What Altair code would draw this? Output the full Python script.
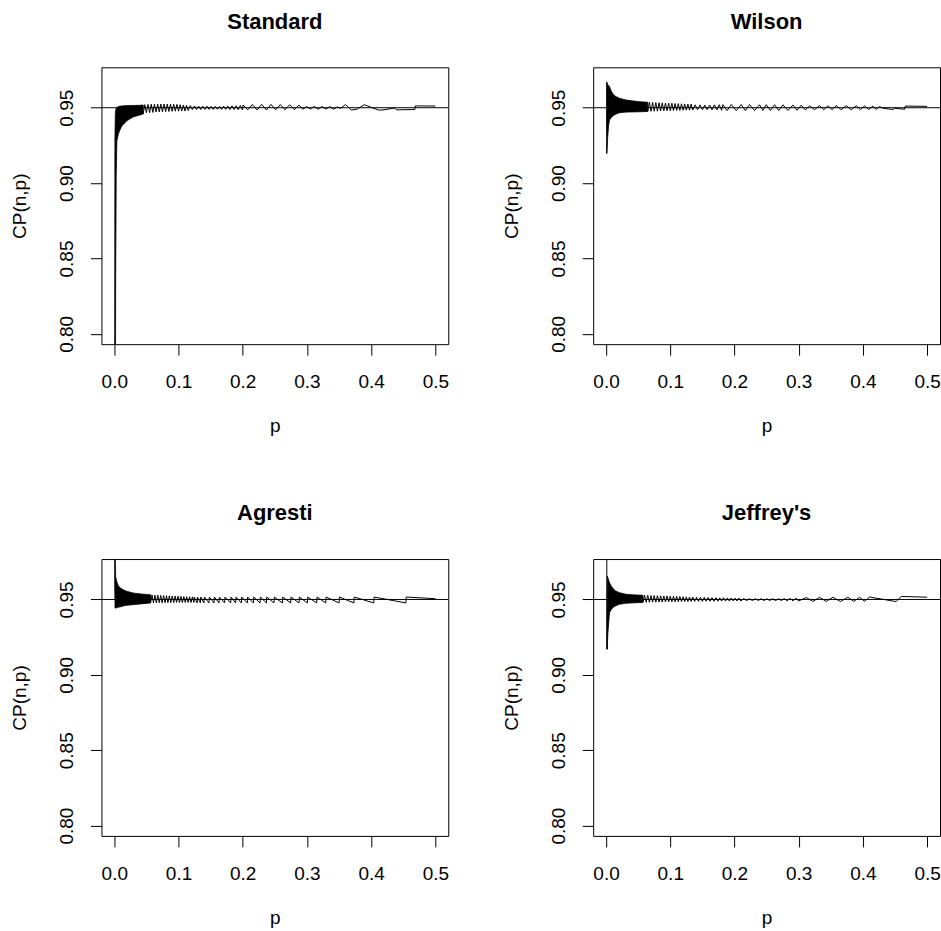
import altair as alt
import pandas as pd

FONT = "Liberation Sans"

# ---------------- data ----------------
x_ticks = [0.0, 0.1, 0.2, 0.3, 0.4, 0.5]
y_ticks = [0.80, 0.85, 0.90, 0.95]
titles = ["Standard", "Wilson", "Agresti", "Jeffrey's"]
nominal = [0.95]

# Standard (Wald)
std_band_p  = [0.0003, 0.0010, 0.0016, 0.0022, 0.0030, 0.0040, 0.0060, 0.0080, 0.0120, 0.0200, 0.0300, 0.0400, 0.0450]
std_band_hi = [0.7000, 0.9300, 0.9460, 0.9485, 0.9495, 0.9502, 0.9507, 0.9510, 0.9512, 0.9514, 0.9515, 0.9516, 0.9518]
std_band_lo = [0.7000, 0.7000, 0.7400, 0.8400, 0.9050, 0.9280, 0.9320, 0.9345, 0.9380, 0.9415, 0.9440, 0.9452, 0.9458]
std_spike_p = []
std_spike_cp = []
std_p = [0.0450, 0.0475, 0.0500, 0.0525, 0.0550, 0.0575, 0.0600, 0.0625, 0.0650, 0.0675, 0.0700, 0.0725, 0.0750, 0.0775,
         0.0800, 0.0825, 0.0850, 0.0875, 0.0900, 0.0925, 0.0950, 0.0975, 0.1000, 0.1025, 0.1050, 0.1075, 0.1100, 0.1125, 0.1150,
         0.1183, 0.1215, 0.1248, 0.1280, 0.1313, 0.1345, 0.1378, 0.1410, 0.1443, 0.1475, 0.1508, 0.1540, 0.1573, 0.1605,
         0.1638, 0.1670, 0.1703, 0.1735, 0.1768, 0.1800, 0.1833, 0.1865, 0.1898, 0.1930, 0.1963, 0.1995,
         0.2005, 0.2078, 0.2150, 0.2223, 0.2295, 0.2368, 0.2440, 0.2513, 0.2585, 0.2658, 0.2730, 0.2803, 0.2875, 0.2935,
         0.2995, 0.3055, 0.3115, 0.3175, 0.3235, 0.3295, 0.3355, 0.3415, 0.3475, 0.3520,
         0.3600, 0.3690, 0.3780, 0.3890, 0.4120, 0.4200, 0.4360, 0.4400, 0.4680, 0.4685, 0.5000]
std_cp = [0.9460, 0.9520, 0.9466, 0.9522, 0.9467, 0.9523, 0.9469, 0.9523, 0.9471, 0.9524, 0.9472, 0.9524, 0.9473, 0.9524,
          0.9474, 0.9524, 0.9475, 0.9524, 0.9476, 0.9523, 0.9477, 0.9522, 0.9477, 0.9520, 0.9478, 0.9518, 0.9478, 0.9516, 0.9482,
          0.9514, 0.9487, 0.9512, 0.9488, 0.9511, 0.9488, 0.9510, 0.9489, 0.9510, 0.9489, 0.9509, 0.9489, 0.9509, 0.9490,
          0.9509, 0.9489, 0.9510, 0.9489, 0.9511, 0.9488, 0.9512, 0.9488, 0.9513, 0.9487, 0.9515, 0.9486,
          0.9518, 0.9486, 0.9521, 0.9485, 0.9522, 0.9485, 0.9522, 0.9486, 0.9521, 0.9486, 0.9520, 0.9487, 0.9518, 0.9490,
          0.9508, 0.9491, 0.9509, 0.9490, 0.9508, 0.9491, 0.9507, 0.9490, 0.9506, 0.9495,
          0.9521, 0.9485, 0.9490, 0.9520, 0.9484, 0.9486, 0.9498, 0.9486, 0.9488, 0.9512, 0.9511]

# Wilson
wil_band_p  = [0.0008, 0.0016, 0.0025, 0.0040, 0.0054, 0.0080, 0.0106, 0.0150, 0.0210, 0.0314, 0.0400, 0.0520, 0.0650]
wil_band_hi = [0.9670, 0.9668, 0.9655, 0.9648, 0.9640, 0.9612, 0.9591, 0.9575, 0.9562, 0.9551, 0.9546, 0.9540, 0.9536]
wil_band_lo = [0.9195, 0.9200, 0.9300, 0.9380, 0.9418, 0.9435, 0.9445, 0.9457, 0.9467, 0.9471, 0.9472, 0.9473, 0.9475]
wil_spike_p = []
wil_spike_cp = []
wil_p = [0.0650, 0.0675, 0.0700, 0.0725, 0.0750, 0.0775, 0.0800, 0.0825, 0.0850, 0.0875, 0.0900, 0.0925, 0.0950, 0.0975,
         0.1000, 0.1025, 0.1050, 0.1075, 0.1100, 0.1125, 0.1150, 0.1175, 0.1200, 0.1225, 0.1250, 0.1275, 0.1300, 0.1325, 0.1350,
         0.1388, 0.1425, 0.1463, 0.1500, 0.1538, 0.1575, 0.1613, 0.1650, 0.1688, 0.1725, 0.1763, 0.1800,
         0.1820, 0.1885, 0.1950, 0.2028, 0.2105, 0.2170, 0.2235, 0.2313, 0.2390, 0.2442, 0.2494, 0.2559, 0.2624, 0.2689,
         0.2754, 0.2832, 0.2910, 0.2975, 0.3039, 0.3104,
         0.3169, 0.3247, 0.3325, 0.3390, 0.3455, 0.3520, 0.3584, 0.3662, 0.3740, 0.3818, 0.3896, 0.3961, 0.4026, 0.4090,
         0.4155, 0.4207, 0.4259, 0.4310,
         0.4470, 0.4490, 0.4650, 0.4660, 0.5000]
wil_cp = [0.9475, 0.9536, 0.9476, 0.9535, 0.9477, 0.9534, 0.9477, 0.9533, 0.9478, 0.9532, 0.9479, 0.9531, 0.9480, 0.9530,
          0.9480, 0.9529, 0.9481, 0.9528, 0.9482, 0.9527, 0.9482, 0.9526, 0.9483, 0.9525, 0.9484, 0.9524, 0.9484, 0.9524, 0.9485,
          0.9519, 0.9487, 0.9519, 0.9487, 0.9518, 0.9487, 0.9518, 0.9486, 0.9519, 0.9485, 0.9520, 0.9483,
          0.9520, 0.9481, 0.9521, 0.9481, 0.9521, 0.9481, 0.9521, 0.9481, 0.9520, 0.9482, 0.9520, 0.9481, 0.9520, 0.9482,
          0.9519, 0.9482, 0.9518, 0.9483, 0.9517, 0.9485,
          0.9513, 0.9487, 0.9514, 0.9487, 0.9513, 0.9487, 0.9514, 0.9487, 0.9514, 0.9486, 0.9513, 0.9487, 0.9512, 0.9488,
          0.9510, 0.9489, 0.9508, 0.9497,
          0.9488, 0.9496, 0.9490, 0.9511, 0.9509]

# Agresti-Coull
agr_band_p  = [0.0006, 0.0012, 0.0021, 0.0035, 0.0046, 0.0065, 0.0098, 0.0150, 0.0202, 0.0306, 0.0450, 0.0565]
agr_band_hi = [0.9900, 0.9850, 0.9653, 0.9625, 0.9608, 0.9590, 0.9575, 0.9562, 0.9553, 0.9542, 0.9535, 0.9531]
agr_band_lo = [0.9600, 0.9443, 0.9443, 0.9445, 0.9447, 0.9449, 0.9452, 0.9458, 0.9462, 0.9466, 0.9472, 0.9477]
agr_spike_p = []
agr_spike_cp = []
agr_p = [0.05650, 0.05875, 0.06100, 0.06325, 0.06550, 0.06775, 0.07000, 0.07225, 0.07450, 0.07675, 0.07900, 0.08125,
         0.08350, 0.08575, 0.08800, 0.09025, 0.09250, 0.09475, 0.09700, 0.09925, 0.10150, 0.10375, 0.10600, 0.10825,
         0.11050, 0.11275, 0.11500, 0.11725, 0.11950, 0.12175, 0.12400,
         0.1246, 0.1290, 0.1296, 0.1340, 0.1346, 0.1396, 0.1402, 0.1474, 0.1480, 0.1552, 0.1558, 0.1630, 0.1636,
         0.1718, 0.1724, 0.1812, 0.1818, 0.1889, 0.1895, 0.1978, 0.1984, 0.2071, 0.2077, 0.2165, 0.2171, 0.2269,
         0.2275, 0.2368, 0.2374, 0.2486, 0.2492, 0.2617, 0.2623, 0.2746, 0.2752, 0.2876, 0.2882, 0.3006, 0.3012,
         0.3151, 0.3157, 0.3292, 0.3298, 0.3500, 0.3506, 0.3730, 0.3736, 0.4040, 0.4046, 0.4540, 0.4546, 0.5000]
agr_cp = [0.9477, 0.9530, 0.9477, 0.9529, 0.9478, 0.9528, 0.9478, 0.9527, 0.9478, 0.9526, 0.9479, 0.9525,
          0.9479, 0.9524, 0.9479, 0.9523, 0.9479, 0.9522, 0.9480, 0.9521, 0.9480, 0.9520, 0.9480, 0.9519,
          0.9480, 0.9518, 0.9480, 0.9518, 0.9480, 0.9517, 0.9480,
          0.9516, 0.9477, 0.9516, 0.9477, 0.9516, 0.9477, 0.9516, 0.9477, 0.9516, 0.9477, 0.9516, 0.9477, 0.9516,
          0.9477, 0.9516, 0.9477, 0.9516, 0.9477, 0.9516, 0.9477, 0.9516, 0.9477, 0.9516, 0.9477, 0.9516, 0.9477,
          0.9516, 0.9477, 0.9516, 0.9477, 0.9516, 0.9477, 0.9516, 0.9477, 0.9516, 0.9477, 0.9516, 0.9477, 0.9516,
          0.9477, 0.9516, 0.9477, 0.9516, 0.9477, 0.9516, 0.9477, 0.9516, 0.9477, 0.9516, 0.9477, 0.9516, 0.9505]

# Jeffreys
jef_band_p  = [0.0014, 0.0020, 0.0028, 0.0054, 0.0080, 0.0106, 0.0150, 0.0210, 0.0314, 0.0450, 0.0575]
jef_band_hi = [0.9250, 0.9655, 0.9645, 0.9611, 0.9590, 0.9574, 0.9556, 0.9545, 0.9534, 0.9530, 0.9528]
jef_band_lo = [0.9170, 0.9170, 0.9270, 0.9412, 0.9432, 0.9446, 0.9458, 0.9468, 0.9475, 0.9478, 0.9480]
jef_spike_p = [0.0012, 0.0012]
jef_spike_cp = [0.9900, 0.9170]
jef_p = [0.0575, 0.0600, 0.0625, 0.0650, 0.0675, 0.0700, 0.0725, 0.0750, 0.0775, 0.0800, 0.0825, 0.0850, 0.0875, 0.0900,
         0.0925, 0.0950, 0.0975, 0.1000, 0.1025, 0.1050, 0.1075, 0.1100, 0.1125, 0.1150, 0.1175, 0.1200, 0.1225, 0.1250,
         0.1275, 0.1300, 0.1325, 0.1350,
         0.1380, 0.1410, 0.1440, 0.1470, 0.1500, 0.1530, 0.1560, 0.1590, 0.1620, 0.1650, 0.1680, 0.1710, 0.1740, 0.1770,
         0.1800, 0.1830, 0.1860, 0.1890, 0.1920, 0.1950, 0.1980, 0.2010, 0.2040, 0.2070, 0.2100,
         0.2145, 0.2190, 0.2235, 0.2280, 0.2325, 0.2370, 0.2415, 0.2460, 0.2505, 0.2550, 0.2595, 0.2640, 0.2685, 0.2730,
         0.2775, 0.2820, 0.2865, 0.2910, 0.2955, 0.3000,
         0.3117, 0.3221, 0.3325, 0.3429, 0.3533, 0.3650, 0.3766, 0.3858, 0.3949, 0.4026, 0.4103, 0.4519, 0.4597, 0.5000]
jef_cp = [0.9480, 0.9528, 0.9481, 0.9527, 0.9481, 0.9526, 0.9482, 0.9526, 0.9482, 0.9525, 0.9483, 0.9524, 0.9483, 0.9523,
          0.9484, 0.9523, 0.9484, 0.9522, 0.9485, 0.9521, 0.9485, 0.9520, 0.9485, 0.9519, 0.9486, 0.9518, 0.9486, 0.9517,
          0.9486, 0.9516, 0.9487, 0.9516,
          0.9487, 0.9515, 0.9487, 0.9514, 0.9487, 0.9514, 0.9488, 0.9513, 0.9488, 0.9512, 0.9488, 0.9512, 0.9488, 0.9511,
          0.9489, 0.9511, 0.9489, 0.9510, 0.9489, 0.9510, 0.9490, 0.9509, 0.9490, 0.9509, 0.9490,
          0.9506, 0.9492, 0.9505, 0.9492, 0.9505, 0.9493, 0.9505, 0.9493, 0.9504, 0.9493, 0.9505, 0.9492, 0.9505, 0.9492,
          0.9506, 0.9491, 0.9507, 0.9491, 0.9508, 0.9490,
          0.9513, 0.9487, 0.9514, 0.9487, 0.9515, 0.9486, 0.9515, 0.9487, 0.9514, 0.9488, 0.9516, 0.9486, 0.9520, 0.9515]

# ---------------- chart ----------------
X_DOMAIN = [-0.02, 0.52]
Y_DOMAIN = [0.7932, 0.9768]
W, H = 347, 277


def panel(title, band_p, band_lo, band_hi, line_p, line_cp, spike_p, spike_cp):
    xs = alt.Scale(domain=X_DOMAIN, nice=False, zero=False)
    ys = alt.Scale(domain=Y_DOMAIN, nice=False, zero=False)
    x_axis = alt.Axis(values=x_ticks, format=".1f", title="p", grid=False, domain=False,
                      tickColor="black", tickSize=11, tickWidth=1,
                      labelFont=FONT, labelFontSize=19, labelColor="black", labelPadding=32.3,
                      labelBaseline="alphabetic", labelFlush=False, labelOverlap=False,
                      titleFont=FONT, titleFontSize=19, titleFontWeight="normal", titleColor="black",
                      titleBaseline="alphabetic", titleY=87.6)
    y_axis = alt.Axis(values=y_ticks, format=".2f", title="CP(n,p)", grid=False, domain=False,
                      tickColor="black", tickSize=11, tickWidth=1,
                      labelFont=FONT, labelFontSize=19, labelColor="black", labelPadding=17.8,
                      labelAngle=-90, labelAlign="center", labelBaseline="alphabetic",
                      labelFlush=False, labelOverlap=False,
                      titleFont=FONT, titleFontSize=19, titleFontWeight="normal", titleColor="black",
                      titleAngle=-90, titleBaseline="alphabetic", titleX=-76)

    band_df = pd.DataFrame({"p": band_p, "lo": band_lo, "hi": band_hi})
    rows = []
    for i, (p, c) in enumerate(zip(spike_p, spike_cp)):
        rows.append({"p": p, "cp": c, "seg": "spike", "i": i})
    for i, (p, c) in enumerate(zip(line_p, line_cp)):
        rows.append({"p": p, "cp": c, "seg": "teeth", "i": i})
    line_df = pd.DataFrame(rows)

    band = alt.Chart(band_df).mark_area(color="black", stroke="black", strokeWidth=0.8,
                                        clip=True).encode(
        x=alt.X("p:Q", scale=xs, axis=x_axis),
        y=alt.Y("lo:Q", scale=ys, axis=y_axis),
        y2="hi:Q",
    )
    line = alt.Chart(line_df).mark_line(color="black", strokeWidth=1, clip=True).encode(
        x=alt.X("p:Q", scale=xs, axis=x_axis),
        y=alt.Y("cp:Q", scale=ys, axis=y_axis),
        detail="seg:N",
        order=alt.Order("i:Q"),
    )
    ref = alt.Chart(pd.DataFrame({"cp": nominal})).mark_rule(color="black", strokeWidth=1).encode(
        y=alt.Y("cp:Q", scale=ys, axis=y_axis)
    )
    return alt.layer(band, line, ref).properties(
        width=W, height=H,
        title=alt.TitleParams(title, font=FONT, fontSize=22, fontWeight="bold", color="black",
                              anchor="middle", frame="group", baseline="alphabetic", offset=16.7),
    )


p1 = panel(titles[0], std_band_p, std_band_lo, std_band_hi, std_p, std_cp, std_spike_p, std_spike_cp)
p2 = panel(titles[1], wil_band_p, wil_band_lo, wil_band_hi, wil_p, wil_cp, wil_spike_p, wil_spike_cp)
p3 = panel(titles[2], agr_band_p, agr_band_lo, agr_band_hi, agr_p, agr_cp, agr_spike_p, agr_spike_cp)
p4 = panel(titles[3], jef_band_p, jef_band_lo, jef_band_hi, jef_p, jef_cp, jef_spike_p, jef_spike_cp)

row1 = alt.hconcat(p1, p2, spacing=52)
row2 = alt.hconcat(p3, p4, spacing=52)
chart = alt.vconcat(row1, row2, spacing=64).properties(
    padding={"left": 9.5, "top": 9.1, "right": 0, "bottom": 0},
    background="white",
).configure_view(stroke="black", strokeWidth=1)

chart.save("out.html", embed_options={"renderer": "svg", "actions": False})
